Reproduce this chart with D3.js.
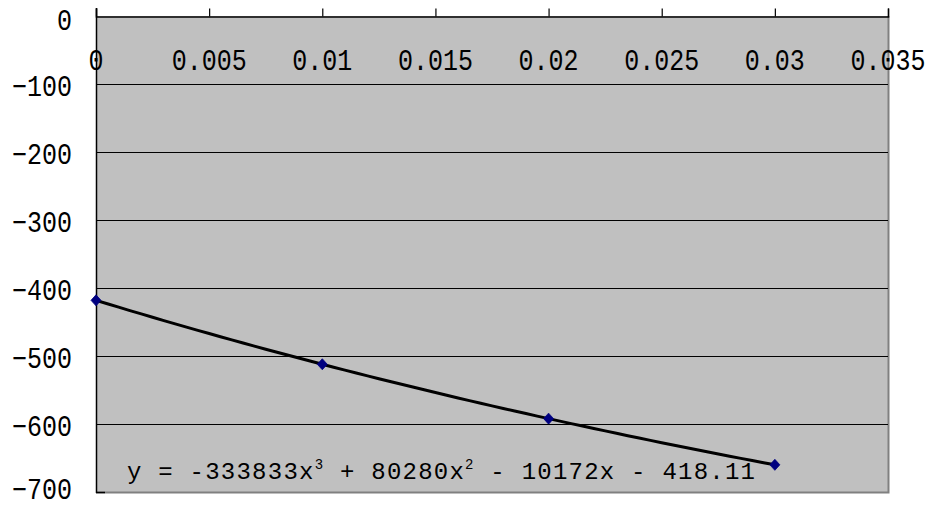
<!DOCTYPE html>
<html>
<head>
<meta charset="utf-8">
<script src="https://cdn.jsdelivr.net/npm/d3@7"></script>
<style>
  html, body { margin: 0; padding: 0; background: #fff; }
  svg { display: block; }
  text { font-family: "Liberation Mono", "DejaVu Sans Mono", monospace; fill: #000; }
</style>
</head>
<body>
<svg id="chart" width="930" height="508"></svg>
<script>
// Measured series
const xValues = [0, 0.01, 0.02, 0.03];
const yValues = [-418.11, -512.14, -592.11, -660.03];

// Axis ticks
const xTicks = [0, 0.005, 0.01, 0.015, 0.02, 0.025, 0.03, 0.035];
const xTickLabels = ["0", "0.005", "0.01", "0.015", "0.02", "0.025", "0.03", "0.035"];
const yTicks = [0, -100, -200, -300, -400, -500, -600, -700];
const yTickLabels = ["0", "\u2212100", "\u2212200", "\u2212300", "\u2212400", "\u2212500", "\u2212600", "\u2212700"];

// Cubic trendline coefficients: a3, a2, a1, a0
const trendCoefficients = [-333833, 80280, -10172, -418.11];

const svg = d3.select("#chart");
const plot = { left: 96, top: 16, right: 888, bottom: 492 };

const x = d3.scaleLinear().domain([0, 0.035]).range([plot.left, plot.right]);
const y = d3.scaleLinear().domain([0, -700]).range([plot.top, plot.bottom]);

// Plot background
svg.append("rect")
  .attr("x", plot.left).attr("y", plot.top)
  .attr("width", plot.right - plot.left).attr("height", plot.bottom - plot.top)
  .attr("fill", "#c0c0c0");

// Right and bottom frame
svg.append("path")
  .attr("d", `M${plot.right + 0.5},${plot.top}V${plot.bottom + 0.5}H${plot.left}`)
  .attr("fill", "none").attr("stroke", "#808080").attr("stroke-width", 2);

// Horizontal gridlines
svg.append("g").selectAll("line")
  .data(yTicks.filter(d => d !== 0 && d !== -700))
  .join("line")
  .attr("x1", plot.left).attr("x2", plot.right)
  .attr("y1", d => Math.round(y(d)) + 0.5).attr("y2", d => Math.round(y(d)) + 0.5)
  .attr("stroke", "#000").attr("stroke-width", 1.2);

// Short inner tick at the bottom of the value axis
svg.append("line")
  .attr("x1", plot.left).attr("x2", plot.left + 9)
  .attr("y1", plot.bottom + 0.5).attr("y2", plot.bottom + 0.5)
  .attr("stroke", "#000").attr("stroke-width", 1.5);

// Category axis along y = 0 (top), ticks pointing outward
const xAxis = d3.axisTop(x).tickValues(xTicks).tickSize(8).tickFormat("");
const gx = svg.append("g")
  .attr("transform", `translate(0,${Math.round(y(0)) + 0.5})`)
  .call(xAxis);
gx.select(".domain").attr("stroke", "#000").attr("stroke-width", 1.5);
gx.selectAll(".tick line").attr("stroke", "#000").attr("stroke-width", 1.2);

// Value axis line
svg.append("line")
  .attr("x1", plot.left + 0.5).attr("x2", plot.left + 0.5)
  .attr("y1", plot.top - 8).attr("y2", plot.bottom + 1)
  .attr("stroke", "#000").attr("stroke-width", 1.5);

// X tick labels, drawn inside the plot below the axis (tall narrow glyphs)
svg.append("g").selectAll("text")
  .data(xTicks)
  .join("text")
  .attr("transform", d => `translate(${x(d)},70) scale(1,1.18)`)
  .attr("text-anchor", "middle")
  .attr("font-size", 25)
  .text((d, i) => xTickLabels[i]);

// Y tick labels
svg.append("g").selectAll("text")
  .data(yTicks)
  .join("text")
  .attr("transform", d => `translate(72,${d === 0 ? 20 : (d === -700 ? y(d) - 3 : y(d) + 2)}) scale(1,1.18)`)
  .attr("dy", "0.35em")
  .attr("text-anchor", "end")
  .attr("font-size", 25)
  .text((d, i) => yTickLabels[i]);

// Trendline from the fitted cubic
const poly = t => trendCoefficients[0] * t ** 3 + trendCoefficients[1] * t ** 2 +
                  trendCoefficients[2] * t + trendCoefficients[3];
const trendX = d3.range(0, 0.0300001, 0.0005);
svg.append("path")
  .datum(trendX)
  .attr("d", d3.line().x(d => x(d)).y(d => y(poly(d))))
  .attr("fill", "none")
  .attr("stroke", "#000")
  .attr("stroke-width", 3);

// Data markers (diamonds)
svg.append("g").selectAll("path")
  .data(xValues.map((v, i) => [v, yValues[i]]))
  .join("path")
  .attr("transform", d => `translate(${x(d[0])},${y(d[1])})`)
  .attr("d", "M0,-5.5L5,0L0,5.5L-5,0Z")
  .attr("fill", "#000080")
  .attr("stroke", "#000080")
  .attr("stroke-width", 0.8);

// Trendline equation label
const eq = svg.append("text")
  .attr("x", 127)
  .attr("y", 479)
  .attr("font-size", 24)
  .attr("textLength", 628)
  .attr("lengthAdjust", "spacing");
const fmt = v => String(Math.abs(v));
eq.append("tspan").text(`y = -${fmt(trendCoefficients[0])}x`);
eq.append("tspan").attr("font-size", 14).attr("dy", -10).text("3");
eq.append("tspan").attr("dy", 10).text(` + ${fmt(trendCoefficients[1])}x`);
eq.append("tspan").attr("font-size", 14).attr("dy", -10).text("2");
eq.append("tspan").attr("dy", 10).text(` - ${fmt(trendCoefficients[2])}x - ${fmt(trendCoefficients[3])}`);
</script>
</body>
</html>
